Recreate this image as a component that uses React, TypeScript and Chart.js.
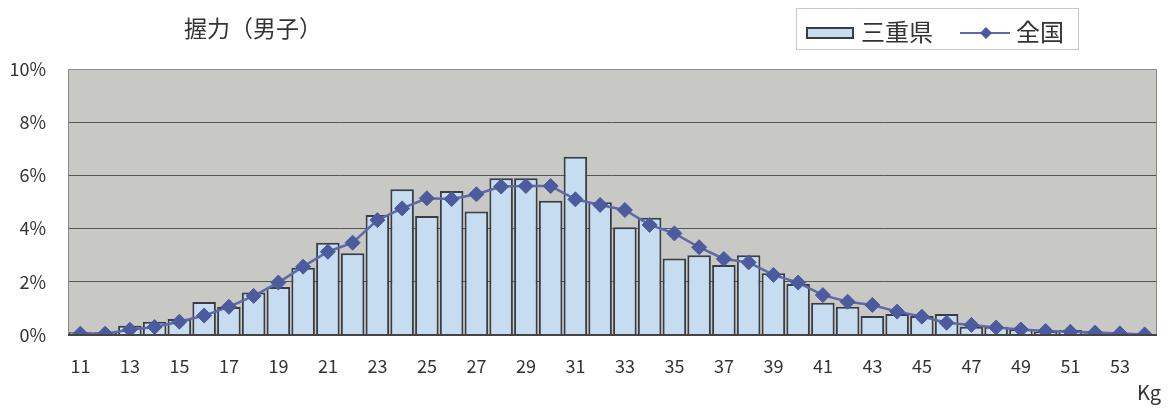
import React, { useEffect, useRef } from "react";
import { Chart, registerables } from "chart.js";

Chart.register(...registerables);

const categories = [
  "11", "12", "13", "14", "15", "16", "17", "18", "19", "20",
  "21", "22", "23", "24", "25", "26", "27", "28", "29", "30",
  "31", "32", "33", "34", "35", "36", "37", "38", "39", "40",
  "41", "42", "43", "44", "45", "46", "47", "48", "49", "50",
  "51", "52", "53", "54",
];

const mieValues = [
  0.1, 0.1, 0.35, 0.5, 0.6, 1.24, 1.05, 1.6, 1.8, 2.53,
  3.47, 3.07, 4.51, 5.48, 4.47, 5.41, 4.64, 5.89, 5.89, 5.05,
  6.7, 4.99, 4.05, 4.41, 2.88, 3.0, 2.63, 3.0, 2.32, 1.92,
  1.21, 1.06, 0.71, 0.79, 0.71, 0.79, 0.31, 0.31, 0.22, 0.12,
  0.19, 0.07, 0.05, 0.02,
];

const nationalValues = [
  0.05, 0.05, 0.2, 0.3, 0.5, 0.73, 1.06, 1.47, 1.97, 2.57,
  3.13, 3.47, 4.32, 4.76, 5.14, 5.11, 5.29, 5.58, 5.6, 5.6,
  5.1, 4.89, 4.7, 4.14, 3.82, 3.3, 2.86, 2.73, 2.26, 1.97,
  1.5, 1.25, 1.13, 0.88, 0.69, 0.46, 0.38, 0.28, 0.21, 0.15,
  0.12, 0.09, 0.06, 0.02,
];

const yTicks = [0, 2, 4, 6, 8, 10];
const titleText = "握力（男子）";
const seriesNames = ["三重県", "全国"];
const unitLabel = "Kg";

const FONT = "'Noto Sans CJK JP', 'Noto Sans', sans-serif";
const BAR_FILL = "#c6dcf1";
const BAR_BORDER = "#3a3e44";
const LINE_COLOR = "#5d6aa6";
const POINT_COLOR = "#4c5a9e";
const PLOT_BG = "#c8c8c5";
const TEXT = "#333333";

const decorPlugin = {
  id: "decor",
  beforeDraw(chart: any) {
    const { ctx, chartArea } = chart;
    ctx.save();
    ctx.fillStyle = "#ffffff";
    ctx.fillRect(0, 0, chart.width, chart.height);
    ctx.fillStyle = PLOT_BG;
    ctx.fillRect(chartArea.left, chartArea.top, chartArea.right - chartArea.left, chartArea.bottom - chartArea.top);
    ctx.restore();
  },
  afterDraw(chart: any) {
    const { ctx, chartArea } = chart;
    ctx.save();
    // plot frame
    ctx.strokeStyle = "#8a8a88";
    ctx.lineWidth = 1;
    ctx.beginPath();
    ctx.moveTo(chartArea.left + 0.5, chartArea.bottom);
    ctx.lineTo(chartArea.left + 0.5, chartArea.top + 0.5);
    ctx.lineTo(chartArea.right - 0.5, chartArea.top + 0.5);
    ctx.lineTo(chartArea.right - 0.5, chartArea.bottom);
    ctx.stroke();
    ctx.strokeStyle = "#444";
    ctx.lineWidth = 2;
    ctx.beginPath();
    ctx.moveTo(chartArea.left, chartArea.bottom);
    ctx.lineTo(chartArea.right, chartArea.bottom);
    ctx.stroke();

    // title
    ctx.fillStyle = TEXT;
    ctx.font = `23px ${FONT}`;
    ctx.textAlign = "center";
    ctx.textBaseline = "middle";
    ctx.fillText(titleText, 253, 28);

    // legend box
    ctx.fillStyle = "#ffffff";
    ctx.fillRect(796, 8, 282, 41);
    ctx.strokeStyle = "#c8c8c8";
    ctx.lineWidth = 1;
    ctx.strokeRect(796.5, 8.5, 282, 41);

    // bar swatch
    ctx.fillStyle = BAR_FILL;
    ctx.fillRect(807, 28, 46, 10);
    ctx.strokeStyle = BAR_BORDER;
    ctx.lineWidth = 2;
    ctx.strokeRect(807, 28, 46, 10);

    ctx.fillStyle = TEXT;
    ctx.font = `24px ${FONT}`;
    ctx.textAlign = "left";
    ctx.textBaseline = "middle";
    ctx.fillText(seriesNames[0], 861, 32);

    // line swatch
    ctx.strokeStyle = LINE_COLOR;
    ctx.lineWidth = 2;
    ctx.beginPath();
    ctx.moveTo(960, 33);
    ctx.lineTo(1010, 33);
    ctx.stroke();
    ctx.fillStyle = POINT_COLOR;
    ctx.beginPath();
    ctx.moveTo(986, 27);
    ctx.lineTo(992, 33);
    ctx.lineTo(986, 39);
    ctx.lineTo(980, 33);
    ctx.closePath();
    ctx.fill();

    ctx.fillStyle = TEXT;
    ctx.fillText(seriesNames[1], 1016, 32);

    // unit label
    ctx.font = `20px ${FONT}`;
    ctx.textAlign = "center";
    ctx.fillText(unitLabel, 1149, 392);
    ctx.restore();
  },
};

export default function App() {
  const canvasRef = useRef<HTMLCanvasElement | null>(null);

  useEffect(() => {
    document.body.style.margin = "0";
    const canvas = canvasRef.current;
    if (!canvas) return;
    const chart = new Chart(canvas, {
      type: "bar",
      data: {
        labels: categories,
        datasets: [
          {
            type: "line",
            label: seriesNames[1],
            data: nationalValues,
            borderColor: LINE_COLOR,
            borderWidth: 2.5,
            pointStyle: "rectRot",
            pointRadius: 7.5,
            pointBackgroundColor: POINT_COLOR,
            pointBorderColor: POINT_COLOR,
            pointBorderWidth: 1,
            tension: 0,
            order: 0,
          } as any,
          {
            type: "bar",
            label: seriesNames[0],
            data: mieValues,
            backgroundColor: BAR_FILL,
            borderColor: BAR_BORDER,
            borderWidth: 2,
            barPercentage: 1,
            categoryPercentage: 0.95,
            order: 1,
          } as any,
        ],
      },
      options: {
        responsive: false,
        animation: false,
        layout: { padding: { top: 69, right: 16, left: 0, bottom: 0 } },
        plugins: {
          legend: { display: false },
          title: { display: false },
          tooltip: { enabled: false },
        },
        scales: {
          x: {
            grid: { display: false, drawTicks: false },
            border: { display: false },
            ticks: {
              autoSkip: false,
              maxRotation: 0,
              padding: 20,
              color: TEXT,
              font: { size: 18, family: FONT },
              callback: (_v: any, i: number) => (i % 2 === 0 ? categories[i] : ""),
            },
            afterFit: (scale: any) => {
              scale.height = 73;
            },
          },
          y: {
            min: 0,
            max: 10,
            afterBuildTicks: (scale: any) => {
              scale.ticks = yTicks.map((v) => ({ value: v }));
            },
            grid: {
              color: (c: any) => (c.tick && (c.tick.value === 10 || c.tick.value === 0) ? "rgba(0,0,0,0)" : "#555555"),
              lineWidth: 1,
              drawTicks: false,
            },
            border: { display: false },
            ticks: {
              padding: 22,
              color: TEXT,
              font: { size: 18, family: FONT },
              callback: (v: any) => `${v}%`,
            },
            afterFit: (scale: any) => {
              scale.width = 68;
            },
          },
        },
      },
      plugins: [decorPlugin],
    });
    return () => chart.destroy();
  }, []);

  return (
    <div style={{ position: "absolute", left: 0, top: 0, width: 1173, height: 408 }}>
      <canvas ref={canvasRef} width={1173} height={408} />
    </div>
  );
}
